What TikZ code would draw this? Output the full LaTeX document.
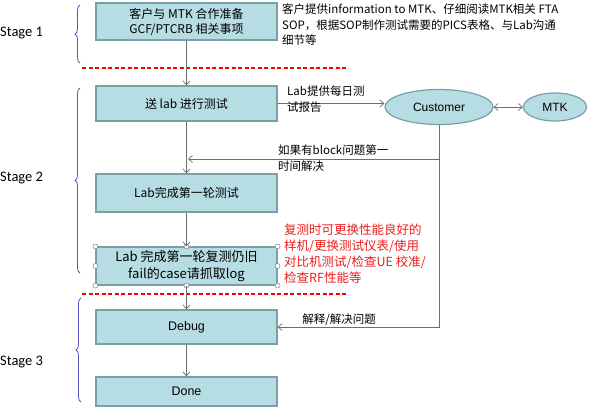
\documentclass[tikz,border=0pt]{standalone}
\usepackage{fontspec}
\setmainfont{Noto Sans CJK SC}
\newfontfamily\latinfont{Liberation Sans}
\newfontfamily\stagefont{Carlito}
\usetikzlibrary{arrows.meta,decorations.pathreplacing,shapes.geometric}
\definecolor{boxfill}{RGB}{183,221,228}
\definecolor{boxline}{RGB}{122,160,166}
\definecolor{braceblue}{RGB}{85,85,200}
\definecolor{linkgray}{RGB}{110,110,110}
\definecolor{notered}{RGB}{235,30,30}
\tikzset{
  stepbox/.style={draw=boxline,fill=boxfill,line width=1.2pt,minimum width=181pt,align=center,inner sep=1pt,font=\fontsize{12}{15}\selectfont},
  oval/.style={ellipse,draw=boxline,fill=boxfill,line width=1.2pt,inner sep=0pt,font=\latinfont\fontsize{12}{14}\selectfont},
  link/.style={draw=linkgray,line width=0.7pt,-{Straight Barb[length=4pt,width=7pt]}},
  stagebrace/.style={draw=braceblue,line width=0.8pt,decorate,decoration={brace,amplitude=5pt}},
  cut/.style={draw=red,line width=1.6pt,dash pattern=on 4pt off 2.5pt},
  note/.style={anchor=north west,inner sep=0pt,align=left,font=\fontsize{11.5}{15.5}\selectfont},
  stagelabel/.style={anchor=west,inner sep=0pt,font=\stagefont\fontsize{14.5}{16}\selectfont},
  handle/.style={circle,draw=gray,fill=white,line width=0.5pt,inner sep=0pt,minimum size=5pt}
}
\begin{document}
\begin{tikzpicture}[x=1pt,y=-1pt]
	\useasboundingbox (0,0) rectangle (593,408);
	% stages
	\node[stagelabel] (s1) at (0,33) {Stage 1};
	\node[stagelabel] (s2) at (0,178) {Stage 2};
	\node[stagelabel] (s3) at (0,362) {Stage 3};
	\draw[stagebrace] (80,63) -- (80,5);
	\draw[stagebrace] (80,273) -- (80,88);
	\draw[stagebrace] (81,402) -- (81,298);
	\draw[cut] (82,68) -- (348,68);
	\draw[cut] (82,294) -- (348,294);
	% flow
	\node[stepbox,minimum height=37pt] (prep) at (186.5,21.5) {客户与 MTK 合作准备\\GCF/PTCRB 相关事项};
	\node[stepbox,minimum height=35pt] (lab) at (186.5,103.5) {送 lab 进行测试};
	\node[stepbox,minimum height=38pt] (first) at (186.5,193) {Lab完成第一轮测试};
	\node[stepbox,minimum height=38pt,font=\fontsize{13}{17}\selectfont] (retest) at (186.5,266) {Lab 完成第一轮复测仍旧\\fail的case请抓取log};
	\node[stepbox,minimum height=34pt,font=\latinfont\fontsize{12.5}{15}\selectfont] (debug) at (186.5,327) {Debug};
	\node[stepbox,minimum height=29pt,font=\latinfont\fontsize{12.5}{15}\selectfont] (done) at (186.5,391.5) {Done};
	\foreach \p in {north west,north,north east,east,south east,south,south west,west}
		\node[handle] at (retest.\p) {};
	\node[oval,minimum width=108pt,minimum height=35pt] (cust) at (439,107) {Customer};
	\node[oval,minimum width=63pt,minimum height=28pt] (mtk) at (555,107) {MTK};
	\draw[link] (prep) -- (lab);
	\draw[link] (lab) -- (first);
	\draw[link] (first) -- (retest);
	\draw[link] (retest) -- (debug);
	\draw[link] (debug) -- (done);
	\draw[link] (lab.east) -- (lab.east -| cust.west);
	\draw[link,{Straight Barb[length=4pt,width=7pt]}-{Straight Barb[length=4pt,width=7pt]}] (cust) -- (mtk);
	\coordinate (block) at (188,159);
	\draw[link] (cust.south |- block) -- (block);
	\draw[link] (cust.south) |- (debug.east);
	% notes
	\node[note] (info) at (282,4) {客户提供information to MTK、仔细阅读MTK相关 FTA\\SOP，根据SOP制作测试需要的PICS表格、与Lab沟通\\细节等};
	\node[note] (daily) at (287,86) {Lab提供每日测\\试报告};
	\node[note] (blk) at (278,145) {如果有block问题第一\\时间解决};
	\node[note,text=notered,font=\fontsize{12.5}{16}\selectfont] (tips) at (284,224) {复测时可更换性能良好的\\样机/更换测试仪表/使用\\对比机测试/检查UE 校准/\\检查RF性能等};
	\node[note,anchor=center] (fix) at (339,320) {解释/解决问题};
\end{tikzpicture}
\end{document}
